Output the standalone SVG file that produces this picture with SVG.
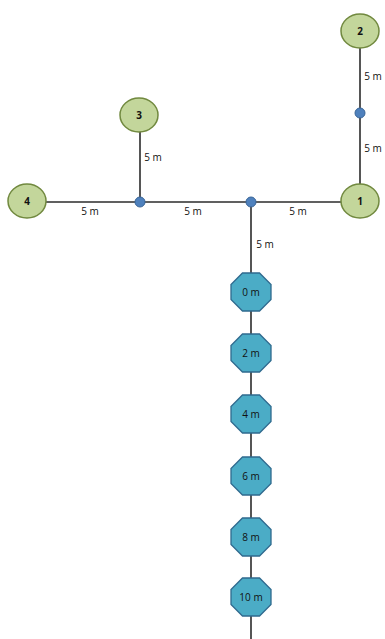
<svg xmlns="http://www.w3.org/2000/svg" xmlns:xlink="http://www.w3.org/1999/xlink" width="385" height="639" viewBox="0 0 385 639">
<style>
.ln{stroke:#2b2b2b;stroke-width:1.6;fill:none}
.g{fill:#c3d69b;stroke:#71893f;stroke-width:1.5}
.o{fill:#4bacc6;stroke:#2f6a8e;stroke-width:1.3}
.d{fill:#4f81bd;stroke:#3a6597;stroke-width:1}
.t{font-family:"Open Sans","Liberation Sans",sans-serif;font-size:10px;fill:#111;text-anchor:middle}
.b{font-weight:bold}
</style>
<defs>
<polygon id="oct" points="-8.5,-19 8.5,-19 20,-7.5 20,7.5 8.5,19 -8.5,19 -20,7.5 -20,-7.5"/>
</defs>
<g id="connectors">
<line class="ln" x1="360" y1="31" x2="360" y2="201"/>
<line class="ln" x1="27" y1="202" x2="360" y2="202"/>
<line class="ln" x1="140" y1="115" x2="140" y2="202"/>
<line class="ln" x1="251" y1="202" x2="251" y2="639"/>
<text class="t" x="373" y="80">5 m</text>
<text class="t" x="373" y="152">5 m</text>
<text class="t" x="153" y="161">5 m</text>
<text class="t" x="90" y="215">5 m</text>
<text class="t" x="193" y="215">5 m</text>
<text class="t" x="298" y="215">5 m</text>
<text class="t" x="265" y="248">5 m</text>
</g>
<g id="n2"><ellipse class="g" cx="360" cy="31" rx="19" ry="17"/><text class="t b" x="360" y="34.5">2</text></g>
<g id="j1"><circle class="d" cx="360" cy="113" r="5"/></g>
<g id="n1"><ellipse class="g" cx="360" cy="201" rx="19" ry="17"/><text class="t b" x="360" y="204.5">1</text></g>
<g id="n3"><ellipse class="g" cx="139" cy="115" rx="19" ry="17"/><text class="t b" x="139" y="118.5">3</text></g>
<g id="n4"><ellipse class="g" cx="27" cy="201" rx="19" ry="17"/><text class="t b" x="27" y="204.5">4</text></g>
<g id="j2"><circle class="d" cx="140" cy="202" r="5"/></g>
<g id="j3"><circle class="d" cx="251" cy="202" r="5"/></g>
<g id="o0"><use xlink:href="#oct" class="o" x="251" y="292"/><text class="t" x="251" y="295.5">0 m</text></g>
<g id="o2"><use xlink:href="#oct" class="o" x="251" y="353"/><text class="t" x="251" y="356.5">2 m</text></g>
<g id="o4"><use xlink:href="#oct" class="o" x="251" y="414"/><text class="t" x="251" y="417.5">4 m</text></g>
<g id="o6"><use xlink:href="#oct" class="o" x="251" y="476"/><text class="t" x="251" y="479.5">6 m</text></g>
<g id="o8"><use xlink:href="#oct" class="o" x="251" y="537"/><text class="t" x="251" y="540.5">8 m</text></g>
<g id="o10"><use xlink:href="#oct" class="o" x="251" y="597"/><text class="t" x="251" y="600.5">10 m</text></g>
</svg>
